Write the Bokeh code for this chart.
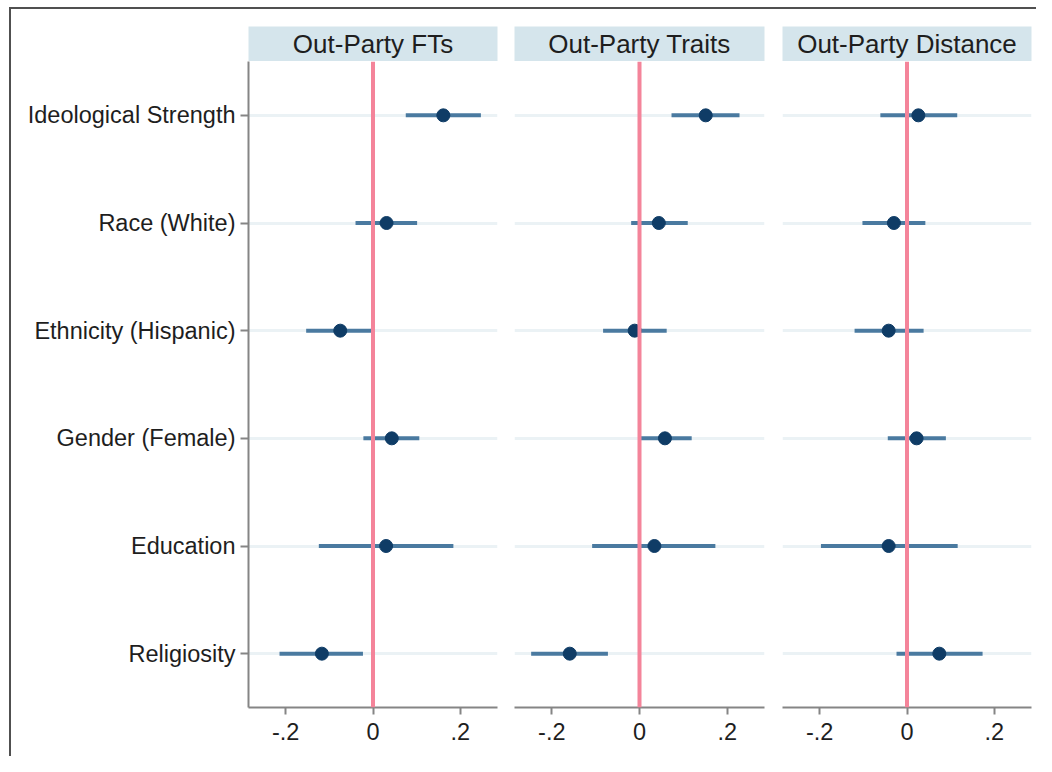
from bokeh.plotting import figure
from bokeh.layouts import row, column
from bokeh.models import ColumnDataSource, Range1d, FactorRange, FixedTicker, Span, Spacer
from bokeh.core.properties import value
from bokeh.embed import file_html
from bokeh.resources import INLINE

categories = ["Ideological Strength", "Race (White)", "Ethnicity (Hispanic)",
              "Gender (Female)", "Education", "Religiosity"]

panel_titles = ["Out-Party FTs", "Out-Party Traits", "Out-Party Distance"]

ft_est = [0.161, 0.031, -0.075, 0.043, 0.030, -0.117]
ft_lo = [0.075, -0.040, -0.153, -0.022, -0.124, -0.214]
ft_hi = [0.247, 0.101, 0.000, 0.106, 0.184, -0.023]

traits_est = [0.151, 0.044, -0.011, 0.058, 0.034, -0.159]
traits_lo = [0.073, -0.019, -0.083, 0.000, -0.108, -0.247]
traits_hi = [0.228, 0.110, 0.062, 0.119, 0.173, -0.072]

dist_est = [0.026, -0.030, -0.042, 0.022, -0.042, 0.074]
dist_lo = [-0.061, -0.102, -0.120, -0.044, -0.197, -0.024]
dist_hi = [0.115, 0.042, 0.038, 0.089, 0.116, 0.173]

x_ticks = [-0.2, 0.0, 0.2]
x_tick_labels = ["-.2", "0", ".2"]

FONT = "Liberation Sans"
TEXT = "#1e1e1e"
AXIS = "#858585"
STRIP = "#d5e5ec"
GRID = "#ebf2f5"
REF = "#f4849a"
CI = "#4a7aa0"
PT = "#0f3c66"

series = [(ft_est, ft_lo, ft_hi), (traits_est, traits_lo, traits_hi), (dist_est, dist_lo, dist_hi)]
frame_w = [249, 250, 249]
bl = [237, 9, 9]
br = [8, 9, 5]

cols = []
for i, (est, lo, hi) in enumerate(series):
    # strip title
    t = figure(frame_width=frame_w[i], frame_height=35, x_range=Range1d(0, 1), y_range=Range1d(0, 1),
               toolbar_location=None, output_backend="svg", x_axis_location=None, y_axis_location=None,
               min_border_left=bl[i], min_border_right=br[i], min_border_top=17, min_border_bottom=0,
               background_fill_color=STRIP, border_fill_color="white", outline_line_color=None)
    t.grid.visible = False
    t.text(x=[0.5], y=[0.5], text=[panel_titles[i]], text_align="center", text_baseline="middle",
           text_font=value(FONT), text_font_size="26px", text_color=TEXT)

    p = figure(frame_width=frame_w[i], frame_height=646,
               x_range=Range1d(-0.285, 0.285), y_range=FactorRange(factors=list(reversed(categories))),
               toolbar_location=None, output_backend="svg",
               y_axis_location="left" if i == 0 else None,
               min_border_left=bl[i], min_border_right=br[i], min_border_top=0, min_border_bottom=49,
               background_fill_color="white", border_fill_color="white", outline_line_color=None)
    p.y_range.range_padding = 0
    p.xgrid.visible = False
    p.ygrid.grid_line_color = GRID
    p.ygrid.grid_line_width = 3

    p.xaxis.ticker = FixedTicker(ticks=x_ticks)
    p.xaxis.major_label_overrides = dict(zip(x_ticks, x_tick_labels))
    p.xaxis.axis_line_color = AXIS
    p.xaxis.axis_line_width = 2
    p.xaxis.major_tick_line_color = AXIS
    p.xaxis.major_tick_line_width = 2
    p.xaxis.major_tick_out = 7
    p.xaxis.major_tick_in = 0
    p.xaxis.minor_tick_line_color = None
    p.xaxis.major_label_standoff = 8
    p.xaxis.major_label_text_font = FONT
    p.xaxis.major_label_text_font_size = "23.5px"
    p.xaxis.major_label_text_color = TEXT

    if i == 0:
        p.yaxis.axis_line_color = AXIS
        p.yaxis.axis_line_width = 2
        p.yaxis.major_tick_line_color = AXIS
        p.yaxis.major_tick_line_width = 2
        p.yaxis.major_tick_out = 8
        p.yaxis.major_tick_in = 0
        p.yaxis.major_label_standoff = 5
        p.yaxis.major_label_text_font = FONT
        p.yaxis.major_label_text_font_size = "23.5px"
        p.yaxis.major_label_text_color = TEXT

    p.add_layout(Span(location=0, dimension="height", line_color=REF, line_width=4))

    src = ColumnDataSource(dict(cat=categories, est=est, lo=lo, hi=hi))
    p.segment(x0="lo", y0="cat", x1="hi", y1="cat", source=src, line_color=CI, line_width=4)
    p.scatter(x="est", y="cat", source=src, size=13, fill_color=PT, line_color=PT)

    cols.append(column(t, p, spacing=0))

boxed = row(*cols, spacing=0, styles={"border-top": "2px solid #505050",
                                      "border-left": "2px solid #505050"})
layout = column(Spacer(width=1036, height=7),
                row(Spacer(width=9, height=749), boxed, spacing=0),
                spacing=0)

open("out.html", "w").write(file_html(layout, INLINE))
